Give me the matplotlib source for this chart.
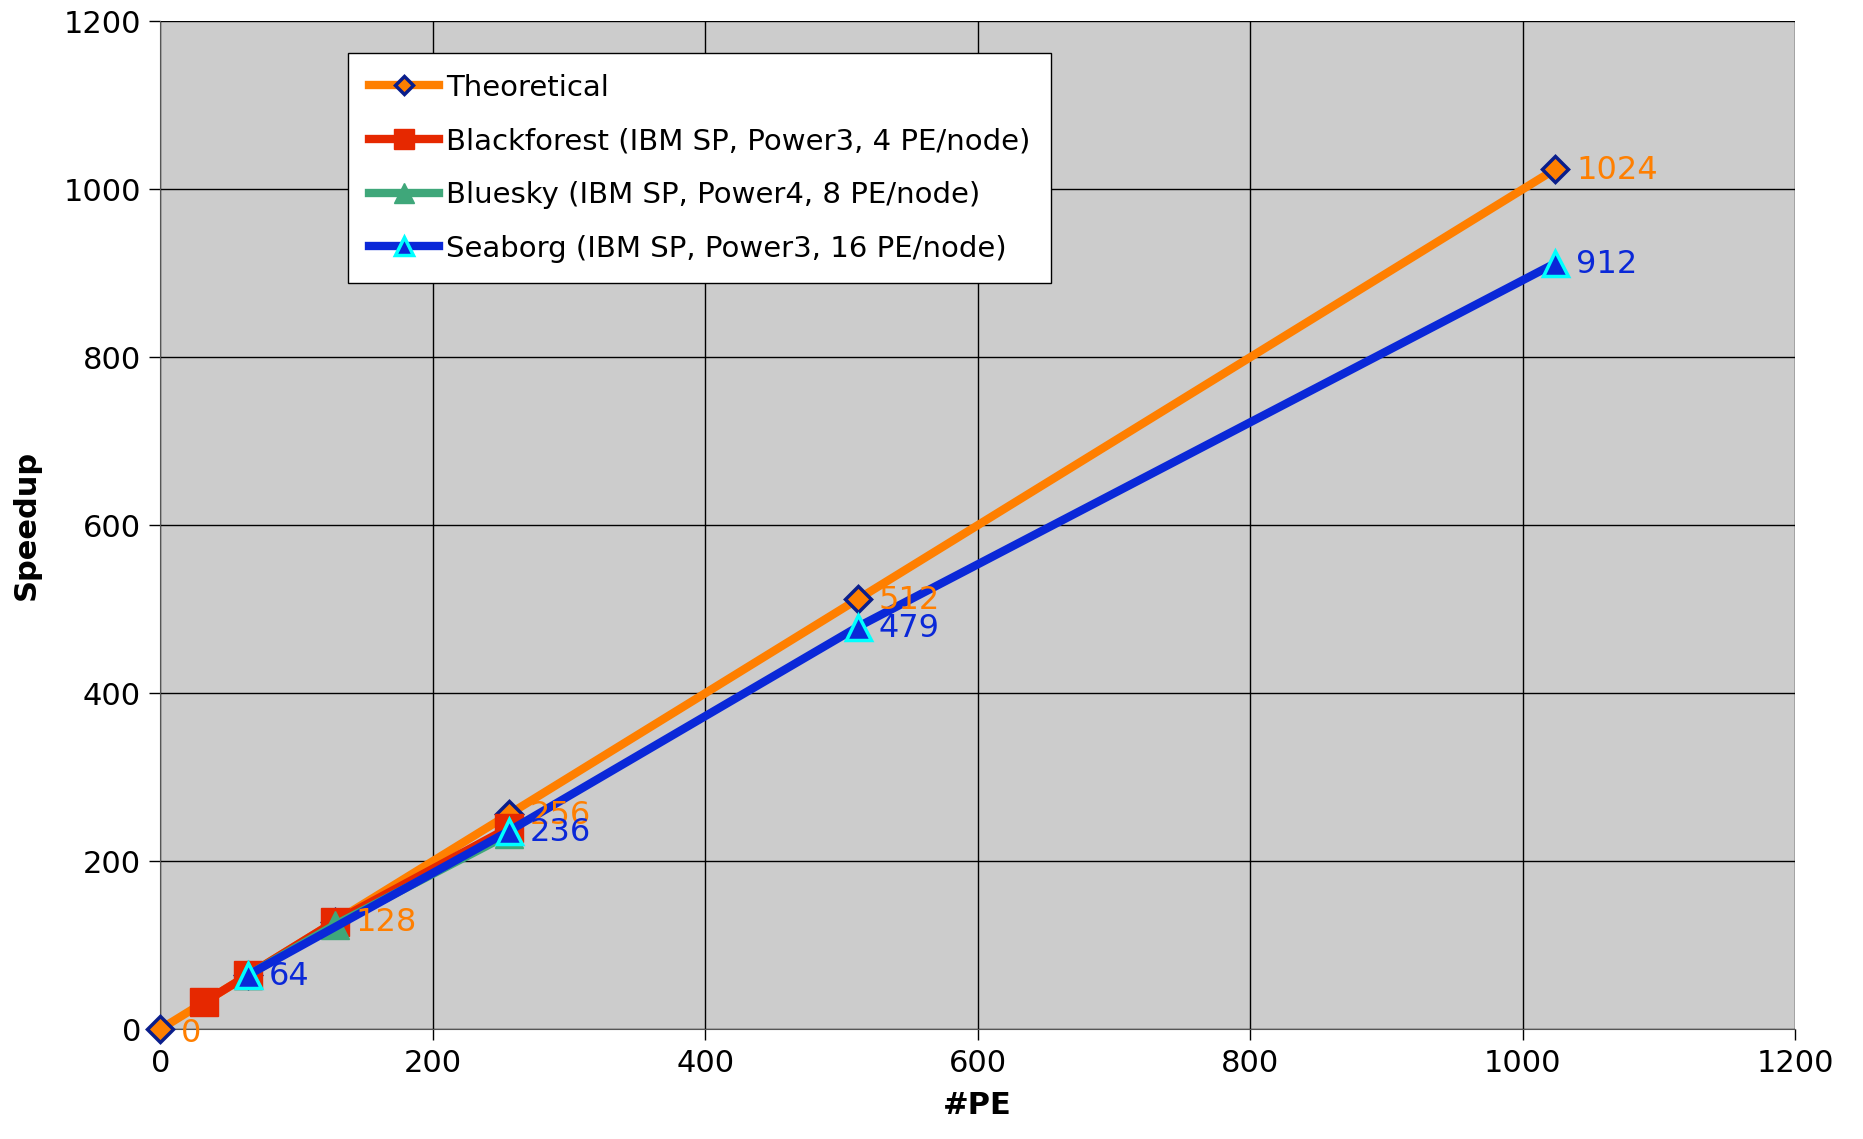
import matplotlib
matplotlib.use("Agg")
import matplotlib.pyplot as plt

# data
theo_pe = [0, 64, 128, 256, 512, 1024]
theo_speedup = [0, 64, 128, 256, 512, 1024]

blackforest_pe = [32, 64, 128, 256]
blackforest_speedup = [32, 64, 128, 240]

bluesky_pe = [64, 128, 256]
bluesky_speedup = [64, 124, 232]

seaborg_pe = [64, 256, 512, 1024]
seaborg_speedup = [64, 236, 479, 912]

theo_labels = ["0", "", "128", "256", "512", "1024"]
seaborg_labels = ["64", "236", "479", "912"]

orange = "#FF7F00"
red = "#E62800"
green = "#3FA77A"
blue = "#0A28D8"

fig = plt.figure(figsize=(18.63, 11.39), dpi=100)
ax = fig.add_axes([0.0861, 0.0965, 0.8774, 0.8847])
ax.set_facecolor("#CCCCCC")

ax.plot(theo_pe, theo_speedup, color=orange, lw=6, marker="D", ms=13,
        mfc=orange, mec="#0A1E8C", mew=2.5, label="Theoretical", zorder=3, clip_on=False)
ax.plot(blackforest_pe, blackforest_speedup, color=red, lw=6, marker="s", ms=20,
        mfc=red, mec=red, label="Blackforest (IBM SP, Power3, 4 PE/node)", zorder=4)
ax.plot(bluesky_pe, bluesky_speedup, color=green, lw=6, marker="^", ms=20,
        mfc=green, mec=green, label="Bluesky (IBM SP, Power4, 8 PE/node)", zorder=5)
ax.plot(seaborg_pe, seaborg_speedup, color=blue, lw=6, marker="^", ms=18,
        mfc=blue, mec="#00FFFF", mew=2.5, label="Seaborg (IBM SP, Power3, 16 PE/node)", zorder=6)

for x, y, t in zip(theo_pe, theo_speedup, theo_labels):
    if t:
        ax.annotate(t, (x, y), xytext=(15, -3 if y == 0 else -1), textcoords="offset points",
                    color=orange, fontsize=23, va="center", ha="left", zorder=7)
for x, y, t in zip(seaborg_pe, seaborg_speedup, seaborg_labels):
    ax.annotate(t, (x, y), xytext=(15, -1), textcoords="offset points",
                color=blue, fontsize=23, va="center", ha="left", zorder=7)

ax.set_xlim(0, 1200)
ax.set_ylim(0, 1200)
ax.set_xticks(range(0, 1201, 200))
ax.set_yticks(range(0, 1201, 200))
ax.grid(True, color="black", lw=1)
ax.set_axisbelow(True)
ax.tick_params(labelsize=22, length=8, width=1, pad=6)
for s in ax.spines.values():
    s.set_color("#555555")
ax.spines["top"].set_visible(False)
ax.spines["right"].set_visible(False)

ax.set_xlabel("#PE", fontsize=22, fontweight="bold", labelpad=10)
ax.set_ylabel("Speedup", fontsize=22, fontweight="bold", labelpad=16)

leg = ax.legend(loc="upper left", bbox_to_anchor=(0.106, 0.983), fontsize=21,
                frameon=True, fancybox=False, edgecolor="black", framealpha=1,
                handlelength=2.4, borderpad=0.7, labelspacing=0.88, handletextpad=0.25,
                markerscale=0.7)
leg.get_frame().set_linewidth(1)

fig.savefig("out.png", dpi=100)
